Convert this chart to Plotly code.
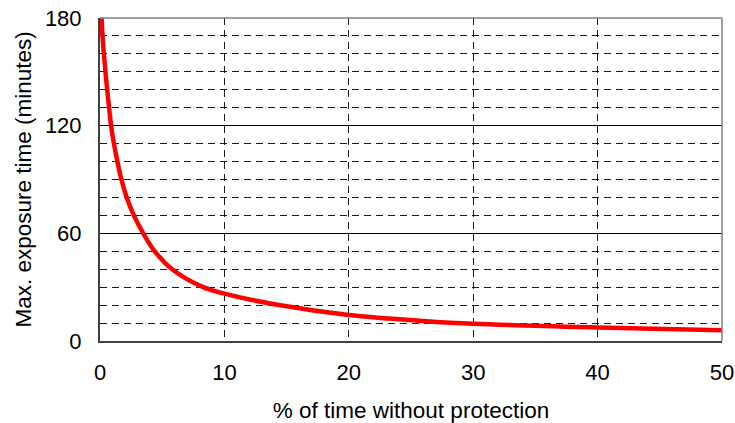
import plotly.graph_objects as go

# Data
pct_unprotected = [0.13, 0.2, 0.31, 0.44, 0.58, 0.73, 0.89, 1.12, 1.40, 1.72, 2.15, 2.72,
                   3.48, 4.4, 5.8, 8.3, 10, 14.5, 20, 26, 30, 40, 50]
max_exposure_min = [180, 170, 160, 150, 140, 130, 120, 110, 100, 90, 80, 70,
                    60, 50, 40, 30, 26.4, 19.9, 14.5, 11.2, 9.6, 7.5, 6.0]

x_ticks = [0, 10, 20, 30, 40, 50]
y_ticks = [0, 60, 120, 180]

FONT = "Liberation Sans, Arial, sans-serif"

fig = go.Figure()
fig.add_trace(go.Scatter(
    x=pct_unprotected, y=max_exposure_min, mode="lines",
    line=dict(color="#ff0000", width=4.5, shape="spline", smoothing=1.0),
    hoverinfo="skip", showlegend=False,
))

fig.update_layout(
    width=735, height=423,
    margin=dict(l=100, r=13, t=18, b=82),
    paper_bgcolor="white", plot_bgcolor="white",
    font=dict(family=FONT, size=22, color="black"),
    xaxis=dict(
        range=[0, 50], tickvals=x_ticks, ticktext=[str(v) for v in x_ticks],
        showgrid=True, gridcolor="#1a1a1a", gridwidth=1, griddash="7px,5px",
        zeroline=False, showline=True, linecolor="#404040", linewidth=2,
        ticks="", ticklabelstandoff=11, automargin=False,
        ticklabeloverflow="allow",
        title=dict(text="% of time without protection", standoff=21,
                   font=dict(size=22.5)),
        fixedrange=True,
    ),
    yaxis=dict(
        range=[0, 180], tickvals=y_ticks, ticktext=[str(v) for v in y_ticks],
        showgrid=True, gridcolor="#000000", gridwidth=1,
        minor=dict(dtick=10, tick0=0, showgrid=True, gridcolor="#1a1a1a",
                   gridwidth=1, griddash="7px,5px"),
        zeroline=False, showline=True, linecolor="#404040", linewidth=2,
        ticks="", ticklabelstandoff=12, automargin=False,
        ticklabeloverflow="allow",
        fixedrange=True,
    ),
    annotations=[
        dict(text="Max. exposure time (minutes)", textangle=-90,
             xref="paper", yref="paper", x=(23 - 100) / 622, y=0.5,
             xanchor="center", yanchor="middle", showarrow=False,
             font=dict(size=22.5)),
    ],
    shapes=[
        dict(type="line", xref="paper", yref="paper", x0=0, x1=1, y0=1, y1=1,
             line=dict(color="#808080", width=1.5)),
        dict(type="line", xref="paper", yref="paper", x0=1, x1=1, y0=0, y1=1,
             line=dict(color="#808080", width=1.5)),
    ],
)

# Remove the default page margin so the 735x423 figure fills the window exactly.
fig.write_html(
    "out.html",
    config={"displayModeBar": False, "staticPlot": True},
    post_script="document.body.style.margin='0';document.body.style.overflow='hidden';",
)
